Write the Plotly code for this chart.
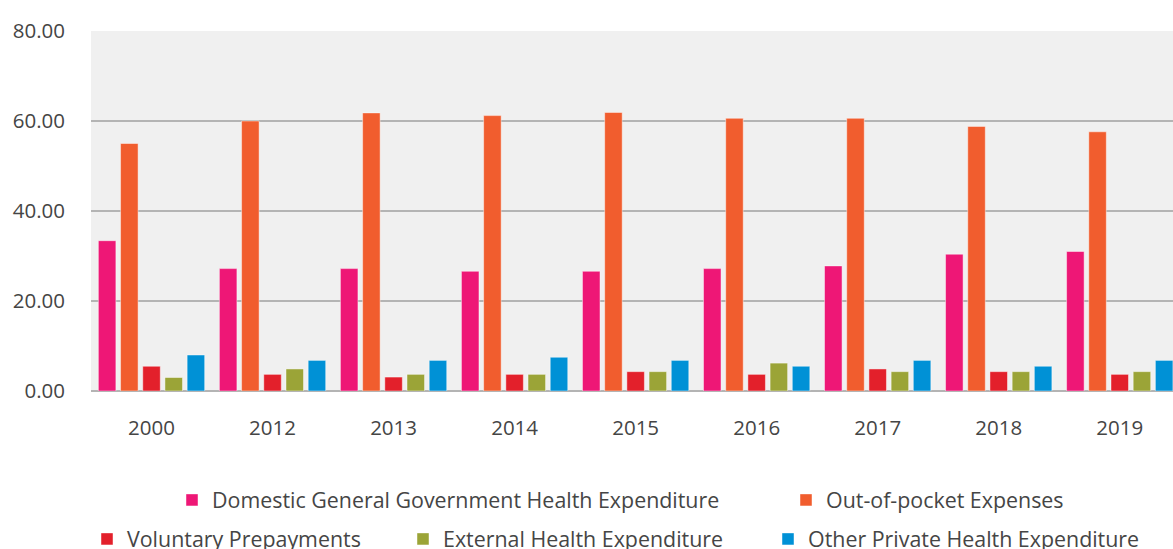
import plotly.graph_objects as go

years = ["2000", "2012", "2013", "2014", "2015", "2016", "2017", "2018", "2019"]

domestic_gov = [33.4, 27.2, 27.2, 26.6, 26.6, 27.2, 27.8, 30.4, 31.0]
out_of_pocket = [55.0, 60.0, 61.8, 61.2, 61.9, 60.6, 60.6, 58.8, 57.6]
voluntary_prepay = [5.5, 3.7, 3.1, 3.7, 4.3, 3.7, 4.9, 4.3, 3.7]
external_health = [3.0, 4.9, 3.7, 3.7, 4.3, 6.2, 4.3, 4.3, 4.3]
other_private = [8.0, 6.8, 6.8, 7.5, 6.8, 5.5, 6.8, 5.5, 6.8]

series = [
    ("Domestic General Government Health Expenditure", domestic_gov, "#EE1776", "legend"),
    ("Out-of-pocket Expenses", out_of_pocket, "#F15D2E", "legend2"),
    ("Voluntary Prepayments", voluntary_prepay, "#E3202B", "legend3"),
    ("External Health Expenditure", external_health, "#9BA437", "legend4"),
    ("Other Private Health Expenditure", other_private, "#0091D6", "legend5"),
]

FONT = "Open Sans"
TEXT_COLOR = "#454545"

fig = go.Figure()
for name, vals, color, leg in series:
    fig.add_trace(go.Bar(
        name=name, x=years, y=vals,
        marker=dict(color=color, line=dict(color="rgba(255,255,255,0.45)", width=1)),
        legend=leg, showlegend=True,
    ))

W, H = 1173, 549
L, R, T, B = 91, 0, 31, 158


def legend_at(px, py):
    # legend placed in container coordinates so it does not push the margins
    return dict(
        xref="container", yref="container",
        x=px / W, y=(H - py) / H, xanchor="left", yanchor="middle",
        orientation="h", bgcolor="rgba(0,0,0,0)",
        font=dict(family=FONT, size=21.4, color=TEXT_COLOR),
    )


fig.update_layout(
    width=W, height=H,
    margin=dict(l=L, r=R, t=T, b=B, autoexpand=False),
    paper_bgcolor="white",
    plot_bgcolor="#F0F0F0",
    barmode="group",
    bargap=0.083,
    bargroupgap=0.21,
    showlegend=True,
    font=dict(family=FONT, size=20.5, color=TEXT_COLOR),
    legend=legend_at(172, 500),
    legend2=legend_at(786, 500),
    legend3=legend_at(87, 539),
    legend4=legend_at(403, 539),
    legend5=legend_at(768, 539),
    xaxis=dict(
        type="category", range=[-0.5, 8.44],
        showgrid=False, ticks="", ticklabelstandoff=22,
        tickfont=dict(family=FONT, size=20.5, color=TEXT_COLOR),
    ),
    yaxis=dict(
        range=[0, 80], dtick=20, tickformat=".2f",
        showgrid=True, gridcolor="#B4B4B4", gridwidth=1.5,
        zeroline=True, zerolinecolor="#B4B4B4", zerolinewidth=2,
        ticks="", ticklabelstandoff=25,
        tickfont=dict(family=FONT, size=20.5, color=TEXT_COLOR),
    ),
)

fig.write_html("out.html")
